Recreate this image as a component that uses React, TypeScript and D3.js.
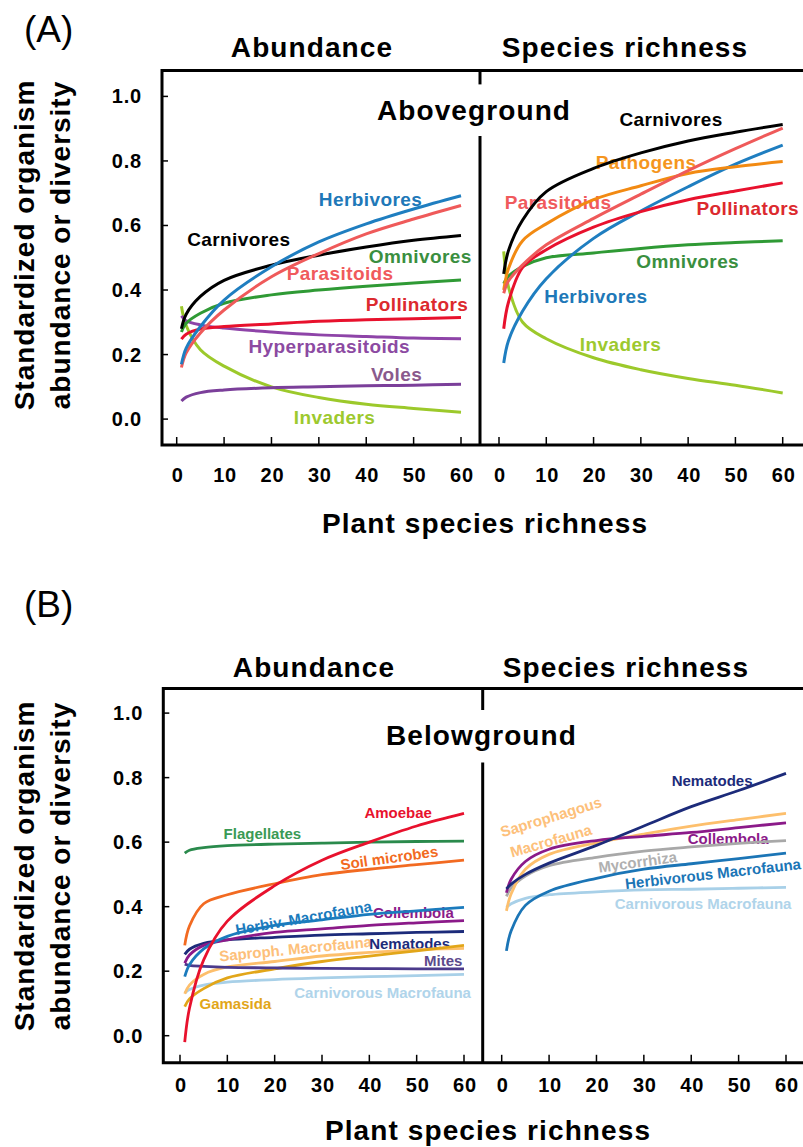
import { useEffect, useRef } from "react";
import * as d3 from "d3";

// plant species richness at which curve values were read
const RICHNESS = [1, 2, 5, 10, 20, 30, 40, 50, 60];
const X_TICKS = [0, 10, 20, 30, 40, 50, 60];
const Y_TICKS = [0, 0.2, 0.4, 0.6, 0.8, 1.0];

// (A) aboveground - abundance
const A_AB_CARNIVORES = [0.28, 0.325, 0.38, 0.43, 0.477, 0.508, 0.533, 0.554, 0.569];
const A_AB_HERBIVORES = [0.17, 0.22, 0.287, 0.369, 0.472, 0.549, 0.605, 0.651, 0.692];
const A_AB_PARASITOIDS = [0.16, 0.205, 0.267, 0.338, 0.441, 0.513, 0.574, 0.62, 0.662];
const A_AB_OMNIVORES = [0.27, 0.297, 0.328, 0.359, 0.385, 0.4, 0.412, 0.422, 0.431];
const A_AB_POLLINATORS = [0.248, 0.263, 0.279, 0.287, 0.295, 0.303, 0.308, 0.311, 0.315];
const A_AB_HYPERPARASITOIDS = [0.32, 0.305, 0.292, 0.282, 0.27, 0.261, 0.256, 0.251, 0.249];
const A_AB_VOLES = [0.056, 0.068, 0.082, 0.09, 0.097, 0.1, 0.103, 0.105, 0.108];
const A_AB_INVADERS = [0.35, 0.29, 0.215, 0.164, 0.1, 0.067, 0.046, 0.033, 0.021];

// (A) aboveground - species richness
const A_SR_CARNIVORES = [0.45, 0.522, 0.617, 0.705, 0.777, 0.825, 0.862, 0.889, 0.913];
const A_SR_PARASITOIDS = [0.39, 0.428, 0.478, 0.54, 0.622, 0.697, 0.77, 0.838, 0.902];
const A_SR_HERBIVORES = [0.174, 0.243, 0.335, 0.435, 0.56, 0.645, 0.72, 0.79, 0.849];
const A_SR_PATHOGENS = [0.4, 0.466, 0.553, 0.605, 0.68, 0.723, 0.761, 0.782, 0.798];
const A_SR_POLLINATORS = [0.28, 0.362, 0.47, 0.525, 0.595, 0.643, 0.68, 0.707, 0.732];
const A_SR_OMNIVORES = [0.42, 0.443, 0.473, 0.5, 0.515, 0.529, 0.54, 0.547, 0.553];
const A_SR_INVADERS = [0.52, 0.41, 0.3, 0.249, 0.19, 0.153, 0.126, 0.105, 0.081];

// (B) belowground - abundance
const B_AB_FLAGELLATES = [0.566, 0.575, 0.583, 0.589, 0.594, 0.597, 0.6, 0.602, 0.603];
const B_AB_AMOEBAE = [-0.02, 0.085, 0.235, 0.355, 0.465, 0.544, 0.6, 0.65, 0.689];
const B_AB_SOIL_MICROBES = [0.28, 0.34, 0.409, 0.437, 0.471, 0.499, 0.516, 0.53, 0.544];
const B_AB_HERBIV_MACRO = [0.183, 0.22, 0.269, 0.308, 0.342, 0.359, 0.376, 0.387, 0.398];
const B_AB_COLLEMBOLA = [0.225, 0.25, 0.28, 0.297, 0.32, 0.331, 0.342, 0.35, 0.357];
const B_AB_NEMATODES = [0.252, 0.268, 0.286, 0.297, 0.305, 0.312, 0.316, 0.32, 0.323];
const B_AB_SAPROPH_MACRO = [0.13, 0.157, 0.19, 0.213, 0.23, 0.247, 0.258, 0.267, 0.271];
const B_AB_GAMASIDA = [0.09, 0.114, 0.146, 0.179, 0.207, 0.23, 0.247, 0.263, 0.28];
const B_AB_MITES = [0.222, 0.218, 0.215, 0.212, 0.21, 0.209, 0.208, 0.207, 0.207];
const B_AB_CARNIV_MACRO = [0.132, 0.143, 0.157, 0.166, 0.174, 0.179, 0.183, 0.186, 0.19];

// (B) belowground - species richness
const B_SR_NEMATODES = [0.455, 0.47, 0.5, 0.535, 0.59, 0.65, 0.71, 0.76, 0.813];
const B_SR_SAPROPH_MACRO = [0.387, 0.44, 0.516, 0.562, 0.598, 0.625, 0.65, 0.67, 0.689];
const B_SR_COLLEMBOLA = [0.443, 0.485, 0.54, 0.578, 0.605, 0.618, 0.63, 0.645, 0.66];
const B_SR_MYCORRHIZA = [0.432, 0.458, 0.495, 0.527, 0.553, 0.572, 0.585, 0.596, 0.605];
const B_SR_HERBIV_MACRO = [0.263, 0.325, 0.404, 0.448, 0.488, 0.516, 0.533, 0.549, 0.566];
const B_SR_CARNIV_MACRO = [0.398, 0.409, 0.426, 0.437, 0.446, 0.452, 0.454, 0.457, 0.46];

const FONT = "'Liberation Sans', Arial, Helvetica, sans-serif";

type Series = { values: number[]; color: string };
type Label = { text: string; s: number; v: number; color: string; rot?: number };

const panelA = {
  tag: "(A)",
  ground: "Aboveground",
  top: 70.6,
  bottom: 445,
  left: 162,
  divider: 480,
  gap: [84.4, 136],
  yRange: [419.1, 96.4],
  xLeft: [176.7, 461],
  xRight: [499, 782.7],
  tagY: 42,
  titleY: 56.5,
  abundanceX: 312,
  richnessX: 625,
  groundX: 474,
  groundY: 120,
  tickLabelY: 482,
  axisTitleX: 485,
  axisTitleY: 533,
  yLabelY: 245,
  labelSize: 19,
  labelSpacing: 0.4,
  lineWidth: 3,
  left_series: [
    { values: A_AB_INVADERS, color: "#9cc92b" },
    { values: A_AB_VOLES, color: "#7b3f9a" },
    { values: A_AB_HYPERPARASITOIDS, color: "#8e44a8" },
    { values: A_AB_POLLINATORS, color: "#e8112d" },
    { values: A_AB_OMNIVORES, color: "#2f9a35" },
    { values: A_AB_CARNIVORES, color: "#000000" },
    { values: A_AB_PARASITOIDS, color: "#ef5a5a" },
    { values: A_AB_HERBIVORES, color: "#1f7ec0" },
  ] as Series[],
  right_series: [
    { values: A_SR_INVADERS, color: "#9cc92b" },
    { values: A_SR_OMNIVORES, color: "#2f9a35" },
    { values: A_SR_HERBIVORES, color: "#1f7ec0" },
    { values: A_SR_POLLINATORS, color: "#e8112d" },
    { values: A_SR_PATHOGENS, color: "#f28a12" },
    { values: A_SR_PARASITOIDS, color: "#ef5a5a" },
    { values: A_SR_CARNIVORES, color: "#000000" },
  ] as Series[],
  left_labels: [
    { text: "Carnivores", s: 13.1, v: 0.536, color: "#000000" },
    { text: "Herbivores", s: 40.9, v: 0.66, color: "#2078b8" },
    { text: "Omnivores", s: 51.4, v: 0.484, color: "#3a8f3f" },
    { text: "Parasitoids", s: 34.5, v: 0.431, color: "#f05a5c" },
    { text: "Pollinators", s: 50.7, v: 0.335, color: "#dc2a2e" },
    { text: "Hyperparasitoids", s: 32.2, v: 0.206, color: "#8c4aa2" },
    { text: "Voles", s: 46.4, v: 0.118, color: "#8a5a8c" },
    { text: "Invaders", s: 33.3, v: -0.015, color: "#9dc92e" },
  ] as Label[],
  right_labels: [
    { text: "Carnivores", s: 36.4, v: 0.908, color: "#000000" },
    { text: "Pathogens", s: 31.1, v: 0.776, color: "#f5961e" },
    { text: "Parasitoids", s: 12.5, v: 0.651, color: "#f05a5c" },
    { text: "Pollinators", s: 52.6, v: 0.631, color: "#dc2a2e" },
    { text: "Omnivores", s: 39.9, v: 0.468, color: "#3a8f3f" },
    { text: "Herbivores", s: 20.5, v: 0.36, color: "#2078b8" },
    { text: "Invaders", s: 25.7, v: 0.211, color: "#9dc92e" },
  ] as Label[],
};

const panelB = {
  tag: "(B)",
  ground: "Belowground",
  top: 688.5,
  bottom: 1062.8,
  left: 163.3,
  divider: 482.7,
  gap: [710, 762.6],
  yRange: [1035.7, 713.1],
  xLeft: [180, 464],
  xRight: [501.7, 786],
  tagY: 617,
  titleY: 677,
  abundanceX: 314,
  richnessX: 626,
  groundX: 481.5,
  groundY: 744.6,
  tickLabelY: 1092,
  axisTitleX: 488,
  axisTitleY: 1140,
  yLabelY: 866,
  labelSize: 15,
  labelSpacing: 0,
  lineWidth: 2.8,
  left_series: [
    { values: B_AB_CARNIV_MACRO, color: "#a8d0e8" },
    { values: B_AB_SAPROPH_MACRO, color: "#fdbf6c" },
    { values: B_AB_GAMASIDA, color: "#e2a619" },
    { values: B_AB_MITES, color: "#4b3a8c" },
    { values: B_AB_NEMATODES, color: "#1c2b7a" },
    { values: B_AB_COLLEMBOLA, color: "#8b1a89" },
    { values: B_AB_HERBIV_MACRO, color: "#1b7bbd" },
    { values: B_AB_SOIL_MICROBES, color: "#f26a21" },
    { values: B_AB_FLAGELLATES, color: "#2a8a4c" },
    { values: B_AB_AMOEBAE, color: "#e8112d" },
  ] as Series[],
  right_series: [
    { values: B_SR_CARNIV_MACRO, color: "#a8d0e8" },
    { values: B_SR_HERBIV_MACRO, color: "#1b75b6" },
    { values: B_SR_MYCORRHIZA, color: "#a8a8a8" },
    { values: B_SR_SAPROPH_MACRO, color: "#fdbf6c" },
    { values: B_SR_COLLEMBOLA, color: "#8b1a89" },
    { values: B_SR_NEMATODES, color: "#1c2b7a" },
  ] as Series[],
  left_labels: [
    { text: "Amoebae", s: 46.1, v: 0.675, color: "#e8112d" },
    { text: "Flagellates", s: 17.4, v: 0.61, color: "#3a9a55" },
    { text: "Soil microbes", s: 44.2, v: 0.551, color: "#f26a21", rot: -8 },
    { text: "Herbiv. Macrofauna", s: 26.1, v: 0.365, color: "#1b7bbd", rot: -10 },
    { text: "Collembola", s: 49.3, v: 0.364, color: "#8b1a89" },
    { text: "Saproph. Macrofauna", s: 24.4, v: 0.269, color: "#fdc07a", rot: -5.5 },
    { text: "Nematodes", s: 48.5, v: 0.269, color: "#1c2b7a" },
    { text: "Mites", s: 55.6, v: 0.216, color: "#5c4a8c" },
    { text: "Carnivorous Macrofauna", s: 42.8, v: 0.118, color: "#b0d4ea" },
    { text: "Gamasida", s: 11.7, v: 0.084, color: "#e2a619" },
  ] as Label[],
  right_labels: [
    { text: "Nematodes", s: 44.4, v: 0.774, color: "#1c2b7a" },
    { text: "Saprophagous", s: 10.4, v: 0.678, color: "#fdc07a", rot: -17 },
    { text: "Macrofauna", s: 10.4, v: 0.604, color: "#fdc07a", rot: -16 },
    { text: "Collembola", s: 47.8, v: 0.593, color: "#8b1a89" },
    { text: "Mycorrhiza", s: 28.7, v: 0.538, color: "#b0b0b0", rot: -8 },
    { text: "Herbivorous Macrofauna", s: 44.6, v: 0.502, color: "#1b75b6", rot: -6.5 },
    { text: "Carnivorous Macrofauna", s: 42.5, v: 0.393, color: "#b0d4ea" },
  ] as Label[],
};

type Panel = typeof panelA;

function drawPanel(root: d3.Selection<SVGSVGElement, unknown, null, undefined>, p: Panel) {
  const g = root.append("g").style("font-family", FONT);
  const y = d3.scaleLinear().domain([0, 1]).range(p.yRange);
  const xl = d3.scaleLinear().domain([0, 60]).range(p.xLeft);
  const xr = d3.scaleLinear().domain([0, 60]).range(p.xRight);
  const edge = 810;

  // panel tag
  g.append("text")
    .attr("x", 24)
    .attr("y", p.tagY)
    .style("font-size", "37px")
    .text(p.tag);

  // column titles
  [
    { text: "Abundance", x: p.abundanceX },
    { text: "Species richness", x: p.richnessX },
  ].forEach((t) => {
    g.append("text")
      .attr("x", t.x)
      .attr("y", p.titleY)
      .attr("text-anchor", "middle")
      .style("font-size", "28px")
      .style("font-weight", "bold")
      .style("letter-spacing", "1.1px")
      .text(t.text);
  });

  // frame (open on the right, like the original crop)
  g.append("path")
    .attr("d", `M${edge},${p.top}H${p.left}V${p.bottom}H${edge}`)
    .attr("fill", "none")
    .attr("stroke", "#000")
    .attr("stroke-width", 3);

  // divider with a gap for the group label
  g.append("line")
    .attr("x1", p.divider).attr("x2", p.divider)
    .attr("y1", p.top).attr("y2", p.gap[0])
    .attr("stroke", "#000").attr("stroke-width", 3);
  g.append("line")
    .attr("x1", p.divider).attr("x2", p.divider)
    .attr("y1", p.gap[1]).attr("y2", p.bottom)
    .attr("stroke", "#000").attr("stroke-width", 3);

  g.append("text")
    .attr("x", p.groundX)
    .attr("y", p.groundY)
    .attr("text-anchor", "middle")
    .style("font-size", "28px")
    .style("font-weight", "bold")
    .style("letter-spacing", "1.1px")
    .text(p.ground);

  // y ticks + labels
  Y_TICKS.forEach((t) => {
    g.append("line")
      .attr("x1", p.left).attr("x2", p.left + 6)
      .attr("y1", y(t)).attr("y2", y(t))
      .attr("stroke", "#000").attr("stroke-width", 1.5);
    g.append("text")
      .attr("x", p.left - 20)
      .attr("y", y(t) + 7)
      .attr("text-anchor", "end")
      .style("font-size", "20px")
      .style("font-weight", "bold")
      .style("letter-spacing", "0.8px")
      .text(t.toFixed(1));
  });

  // x ticks + labels for both columns
  [xl, xr].forEach((x) => {
    X_TICKS.forEach((t) => {
      g.append("line")
        .attr("x1", x(t)).attr("x2", x(t))
        .attr("y1", p.bottom).attr("y2", p.bottom - 8)
        .attr("stroke", "#000").attr("stroke-width", 1.5);
      g.append("text")
        .attr("x", x(t) + 1)
        .attr("y", p.tickLabelY)
        .attr("text-anchor", "middle")
        .style("font-size", "20px")
        .style("font-weight", "bold")
        .style("letter-spacing", "0.8px")
        .text(t);
    });
  });

  g.append("text")
    .attr("x", p.axisTitleX)
    .attr("y", p.axisTitleY)
    .attr("text-anchor", "middle")
    .style("font-size", "28px")
    .style("font-weight", "bold")
    .style("letter-spacing", "1.1px")
    .text("Plant species richness");

  // y axis title (two lines)
  [
    { text: "Standardized organism", x: 34 },
    { text: "abundance or diversity", x: 70 },
  ].forEach((t) => {
    g.append("text")
      .attr("transform", `translate(${t.x},${p.yLabelY}) rotate(-90)`)
      .attr("text-anchor", "middle")
      .style("font-size", "28px")
      .style("font-weight", "bold")
      .style("letter-spacing", "1px")
      .text(t.text);
  });

  // curve labels (lines are drawn over them)
  const drawLabels = (labels: Label[], x: d3.ScaleLinear<number, number>) => {
    labels.forEach((l) => {
      const t = g.append("text")
        .attr("text-anchor", "middle")
        .attr("fill", l.color)
        .style("font-size", `${p.labelSize}px`)
        .style("font-weight", "bold")
        .style("letter-spacing", `${p.labelSpacing}px`)
        .text(l.text);
      if (l.rot !== undefined) {
        t.attr("transform", `translate(${x(l.s)},${y(l.v)}) rotate(${l.rot})`).attr("dy", "0.35em");
      } else {
        t.attr("x", x(l.s)).attr("y", y(l.v));
      }
    });
  };
  drawLabels(p.left_labels, xl);
  drawLabels(p.right_labels, xr);

  // curves
  const drawSeries = (series: Series[], x: d3.ScaleLinear<number, number>) => {
    const line = d3
      .line<number>()
      .x((_, i) => x(RICHNESS[i]))
      .y((d) => y(d))
      .curve(d3.curveCatmullRom.alpha(0.5));
    series.forEach((s) => {
      g.append("path")
        .attr("d", line(s.values))
        .attr("fill", "none")
        .attr("stroke", s.color)
        .attr("stroke-width", p.lineWidth);
    });
  };
  drawSeries(p.left_series, xl);
  drawSeries(p.right_series, xr);
}

export default function App() {
  const svgRef = useRef<SVGSVGElement>(null);

  useEffect(() => {
    if (!svgRef.current) return;
    const svg = d3.select(svgRef.current);
    svg.selectAll("*").remove();
    drawPanel(svg, panelA);
    drawPanel(svg, panelB);
  }, []);

  return (
    <svg
      ref={svgRef}
      width={803}
      height={1147}
      viewBox="0 0 803 1147"
      style={{ position: "absolute", left: 0, top: 0, background: "#fff" }}
    />
  );
}
